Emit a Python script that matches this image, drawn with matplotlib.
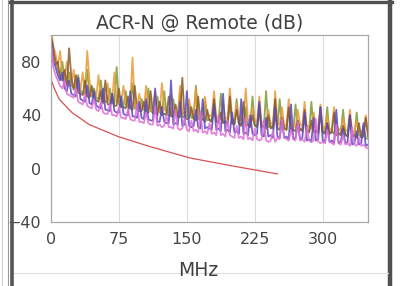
import matplotlib
matplotlib.use("Agg")
import matplotlib.pyplot as plt
from matplotlib.lines import Line2D

# sweep frequencies (MHz), 2.5 MHz steps
freq = [1, 2.5, 5, 7.5, 10, 12.5, 15, 17.5, 20, 22.5,
        25, 27.5, 30, 32.5, 35, 37.5, 40, 42.5, 45, 47.5,
        50, 52.5, 55, 57.5, 60, 62.5, 65, 67.5, 70, 72.5,
        75, 77.5, 80, 82.5, 85, 87.5, 90, 92.5, 95, 97.5,
        100, 102.5, 105, 107.5, 110, 112.5, 115, 117.5, 120, 122.5,
        125, 127.5, 130, 132.5, 135, 137.5, 140, 142.5, 145, 147.5,
        150, 152.5, 155, 157.5, 160, 162.5, 165, 167.5, 170, 172.5,
        175, 177.5, 180, 182.5, 185, 187.5, 190, 192.5, 195, 197.5,
        200, 202.5, 205, 207.5, 210, 212.5, 215, 217.5, 220, 222.5,
        225, 227.5, 230, 232.5, 235, 237.5, 240, 242.5, 245, 247.5,
        250, 252.5, 255, 257.5, 260, 262.5, 265, 267.5, 270, 272.5,
        275, 277.5, 280, 282.5, 285, 287.5, 290, 292.5, 295, 297.5,
        300, 302.5, 305, 307.5, 310, 312.5, 315, 317.5, 320, 322.5,
        325, 327.5, 330, 332.5, 335, 337.5, 340, 342.5, 345, 347.5,
        350]

pair_orange = [100, 92, 86, 76, 88, 70, 68, 80, 64, 63,
               74, 61, 60, 59, 72, 57, 88, 66, 55, 55,
               54, 70, 52, 52, 51, 64, 50, 51, 72, 50,
               49, 50, 62, 48, 48, 47, 83, 47, 46, 56,
               46, 45, 62, 45, 44, 46, 58, 44, 43, 64,
               44, 43, 42, 56, 42, 43, 41, 62, 41, 42,
               42, 52, 41, 40, 60, 40, 41, 39, 54, 39,
               40, 39, 58, 38, 39, 37, 50, 37, 38, 60,
               37, 36, 48, 36, 37, 35, 60, 36, 35, 46,
               36, 35, 54, 34, 35, 33, 44, 34, 33, 58,
               34, 33, 46, 32, 33, 52, 32, 33, 31, 44,
               33, 32, 50, 31, 32, 30, 42, 31, 30, 48,
               31, 30, 40, 30, 29, 46, 29, 30, 28, 38,
               29, 28, 44, 28, 27, 36, 27, 28, 26, 40,
               27]
pair_green = [98, 86, 82, 74, 70, 80, 66, 64, 72, 62,
              61, 60, 70, 58, 57, 56, 74, 55, 54, 60,
              53, 52, 66, 51, 50, 50, 60, 49, 49, 76,
              48, 47, 47, 58, 46, 46, 64, 45, 45, 44,
              52, 44, 43, 60, 43, 42, 42, 54, 42, 41,
              58, 41, 40, 40, 52, 40, 39, 56, 39, 38,
              39, 48, 38, 38, 62, 37, 38, 37, 50, 36,
              37, 36, 44, 36, 35, 56, 35, 36, 34, 48,
              35, 34, 52, 34, 33, 34, 46, 33, 32, 54,
              33, 32, 42, 32, 31, 58, 31, 32, 30, 40,
              31, 52, 30, 31, 29, 44, 30, 29, 48, 29,
              30, 29, 38, 29, 28, 50, 28, 29, 27, 42,
              28, 27, 46, 27, 28, 26, 36, 26, 27, 44,
              26, 25, 38, 26, 24, 42, 25, 24, 32, 23,
              22]
pair_brown = [96, 90, 78, 80, 68, 66, 74, 62, 90, 68,
              59, 70, 57, 56, 55, 66, 54, 53, 62, 52,
              51, 50, 58, 49, 66, 48, 48, 56, 47, 47,
              60, 46, 46, 45, 54, 45, 44, 62, 44, 43,
              43, 50, 42, 42, 58, 41, 42, 40, 50, 40,
              41, 40, 54, 39, 39, 48, 38, 39, 68, 38,
              37, 38, 46, 37, 36, 54, 36, 37, 35, 44,
              36, 35, 52, 35, 34, 42, 34, 35, 33, 54,
              34, 33, 44, 33, 32, 50, 32, 33, 31, 40,
              32, 31, 48, 31, 32, 30, 40, 30, 31, 52,
              30, 29, 38, 30, 29, 46, 28, 29, 28, 36,
              29, 28, 44, 28, 27, 36, 27, 28, 26, 46,
              27, 26, 34, 26, 27, 42, 25, 26, 25, 32,
              25, 24, 40, 24, 25, 23, 34, 23, 24, 38,
              24]
pair_purple = [94, 80, 76, 70, 66, 72, 60, 58, 66, 56,
               55, 54, 68, 52, 51, 50, 62, 49, 48, 58,
               47, 46, 45, 60, 44, 44, 43, 56, 43, 42,
               42, 54, 41, 40, 40, 58, 39, 39, 38, 50,
               38, 37, 52, 37, 36, 36, 60, 35, 35, 46,
               35, 34, 34, 66, 33, 34, 33, 50, 32, 33,
               58, 32, 31, 32, 44, 31, 30, 52, 30, 31,
               30, 29, 48, 29, 30, 28, 56, 28, 29, 27,
               42, 27, 28, 26, 52, 26, 27, 25, 40, 26,
               25, 26, 50, 25, 24, 38, 24, 25, 23, 46,
               24, 23, 36, 23, 24, 22, 48, 22, 23, 34,
               22, 23, 42, 21, 22, 20, 38, 21, 22, 46,
               21, 20, 34, 20, 21, 19, 44, 19, 20, 30,
               19, 20, 40, 18, 19, 28, 18, 19, 34, 17,
               18]
pair_pink = [90, 76, 70, 66, 62, 60, 66, 56, 55, 54,
             53, 60, 50, 49, 48, 56, 47, 46, 45, 52,
             44, 43, 50, 42, 41, 41, 48, 40, 40, 39,
             46, 38, 38, 37, 44, 37, 36, 36, 48, 35,
             35, 34, 42, 34, 33, 33, 46, 32, 33, 31,
             32, 40, 31, 31, 30, 44, 30, 29, 30, 38,
             29, 28, 36, 28, 29, 27, 42, 27, 28, 26,
             34, 26, 27, 25, 40, 25, 26, 24, 36, 25,
             24, 23, 32, 23, 24, 22, 38, 22, 23, 21,
             30, 22, 21, 22, 36, 21, 20, 21, 28, 20,
             23, 22, 37, 23, 22, 21, 29, 22, 21, 35,
             21, 22, 20, 31, 21, 20, 21, 37, 20, 19,
             20, 19, 29, 20, 19, 18, 33, 19, 18, 25,
             18, 19, 17, 31, 18, 17, 23, 17, 18, 16,
             15]

limit_freq = [1, 3, 9, 23, 42, 74, 109, 153, 200, 250]
limit_db = [65, 61, 52, 42, 33, 24, 16.5, 8, 2, -4]

series = [
    (pair_green, "#7a9a30"),
    (pair_orange, "#e89a38"),
    (pair_brown, "#8a5a2a"),
    (pair_purple, "#5a48c0"),
    (pair_pink, "#e070d8"),
]

W, H = 401, 286
fig = plt.figure(figsize=(W / 100, H / 100), dpi=100)
fig.patch.set_facecolor("white")
ax = fig.add_axes([51 / W, 1 - 222 / H, (368 - 51) / W, (222 - 35) / H])

for vals, col in series:
    ax.plot(freq, vals, color=col, lw=1.3, alpha=0.85)
ax.plot(limit_freq, limit_db, color="#d85050", lw=0.9)

ax.set_xlim(0, 350)
ax.set_ylim(-40, 100)
ax.set_xticks([0, 75, 150, 225, 300])
ax.set_yticks([80, 40, 0, -40])
ax.grid(axis="x", color="#dcdcdc", lw=0.8)
ax.set_axisbelow(True)
ax.tick_params(length=0, labelsize=11.5, colors="#444444", pad=7)
for s in ax.spines.values():
    s.set_color("#a8a8a8")
    s.set_linewidth(0.9)

fig.text(200 / W, 1 - 23 / H, "ACR-N @ Remote (dB)", ha="center", va="center",
         fontsize=13.5, color="#404040")
fig.text(198 / W, 1 - 270 / H, "MHz", ha="center", va="center",
         fontsize=13.5, color="#404040")

# outer frame
def px_line(x0, y0, x1, y1, col, lw):
    fig.add_artist(Line2D([x0 / W, x1 / W], [1 - y0 / H, 1 - y1 / H],
                          color=col, lw=lw, transform=fig.transFigure))

px_line(11.5, 0, 11.5, H, "#555555", 2.6)
px_line(8, 0, 8, H, "#9a9a9a", 0.8)
px_line(2, 0, 2, H, "#d0d0d0", 0.8)
px_line(390, 0, 390, H, "#505050", 3.2)
px_line(10, 1.5, 392, 1.5, "#505050", 2.4)
px_line(14, 273, 388, 273, "#dedede", 0.8)

fig.savefig("out.png", dpi=100)
